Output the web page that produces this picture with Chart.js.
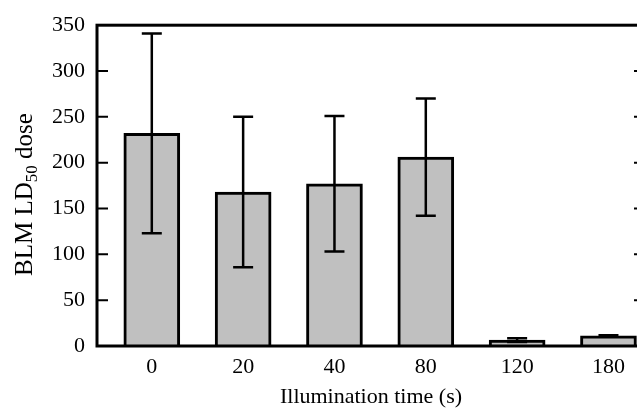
<!DOCTYPE html>
<html>
<head>
<meta charset="utf-8">
<script src="https://cdn.jsdelivr.net/npm/chart.js@4/dist/chart.umd.min.js"></script>
<style>
    html, body { margin: 0; padding: 0; background: #fff; }
    #wrap { width: 637px; height: 408px; overflow: hidden; }
</style>
</head>
<body>
<div id="wrap"><canvas id="chart" width="660" height="408"></canvas></div>
<script>
// Illumination times (s) and the LD50 dose measured for each
const times = ["0", "20", "40", "80", "120", "180"];
const dose = [232, 168, 177, 206, 6.5, 11];
const doseErr = [109, 82, 74, 64, 2, 0.6];
const yTicks = [0, 50, 100, 150, 200, 250, 300, 350];

const serif = "'Liberation Serif', 'Times New Roman', serif";
Chart.defaults.font.family = serif;
Chart.defaults.color = "#000";

// Frame, inward ticks, error bars and the subscripted y title
const decorations = {
    id: "decorations",
    afterDatasetsDraw(chart) {
        const { ctx, chartArea: a, scales: { x, y } } = chart;
        ctx.save();
        ctx.strokeStyle = "#000";
        ctx.lineCap = "butt";

        // error bars
        ctx.lineWidth = 2.5;
        dose.forEach((v, i) => {
            const px = x.getPixelForValue(i);
            const hi = y.getPixelForValue(v + doseErr[i]);
            const lo = y.getPixelForValue(v - doseErr[i]);
            ctx.beginPath();
            ctx.moveTo(px, hi); ctx.lineTo(px, lo);
            ctx.moveTo(px - 10, hi); ctx.lineTo(px + 10, hi);
            ctx.moveTo(px - 10, lo); ctx.lineTo(px + 10, lo);
            ctx.stroke();
        });

        // ticks pointing into the plot on both sides
        ctx.lineWidth = 2;
        yTicks.slice(1, -1).forEach(v => {
            const py = y.getPixelForValue(v);
            ctx.beginPath();
            ctx.moveTo(a.left, py); ctx.lineTo(a.left + 11, py);
            ctx.moveTo(a.right - 11, py); ctx.lineTo(a.right, py);
            ctx.stroke();
        });

        // box round the plot
        ctx.lineWidth = 3;
        ctx.strokeRect(a.left, a.top, a.right - a.left, a.bottom - a.top);

        // y title with LD50 subscript
        const big = "25px " + serif, small = "17px " + serif;
        const parts = [["BLM LD", big, 0], ["50", small, 5], [" dose", big, 0]];
        let total = 0;
        parts.forEach(p => { ctx.font = p[1]; total += ctx.measureText(p[0]).width; });
        ctx.translate(32, (a.top + a.bottom) / 2 + 9);
        ctx.rotate(-Math.PI / 2);
        ctx.fillStyle = "#000";
        ctx.textBaseline = "alphabetic";
        let cx = -total / 2;
        parts.forEach(p => {
            ctx.font = p[1];
            ctx.fillText(p[0], cx, p[2]);
            cx += ctx.measureText(p[0]).width;
        });
        ctx.restore();
    }
};

new Chart(document.getElementById("chart"), {
    type: "bar",
    data: {
        datasets: [{
            data: dose.map((v, i) => ({ x: i, y: v })),
            backgroundColor: "#c0c0c0",
            borderColor: "#000",
            borderWidth: 3,
            barThickness: 56
        }]
    },
    options: {
        responsive: false,
        animation: false,
        layout: { padding: { top: 23, right: 15, bottom: 0, left: 0 } },
        plugins: { legend: { display: false }, tooltip: { enabled: false } },
        scales: {
            x: {
                type: "linear",
                offset: false,
                min: -0.6,
                max: 5.4,
                afterBuildTicks: s => { s.ticks = times.map((t, i) => ({ value: i })); },
                afterFit: s => { s.height = 62; },
                grid: { display: false, drawTicks: false },
                border: { display: false },
                ticks: {
                    padding: 8,
                    color: "#000",
                    font: { family: serif, size: 22 },
                    callback: v => times[v]
                },
                title: {
                    display: true,
                    text: "Illumination time (s)",
                    color: "#000",
                    padding: 0,
                    font: { family: serif, size: 22, lineHeight: 1 }
                }
            },
            y: {
                min: 0,
                max: 350,
                afterBuildTicks: s => { s.ticks = yTicks.map(v => ({ value: v })); },
                afterFit: s => { s.width = 97; },
                grid: { display: false, drawTicks: false },
                border: { display: false },
                ticks: {
                    padding: 12,
                    color: "#000",
                    font: { family: serif, size: 22 }
                }
            }
        }
    },
    plugins: [decorations]
});
</script>
</body>
</html>
